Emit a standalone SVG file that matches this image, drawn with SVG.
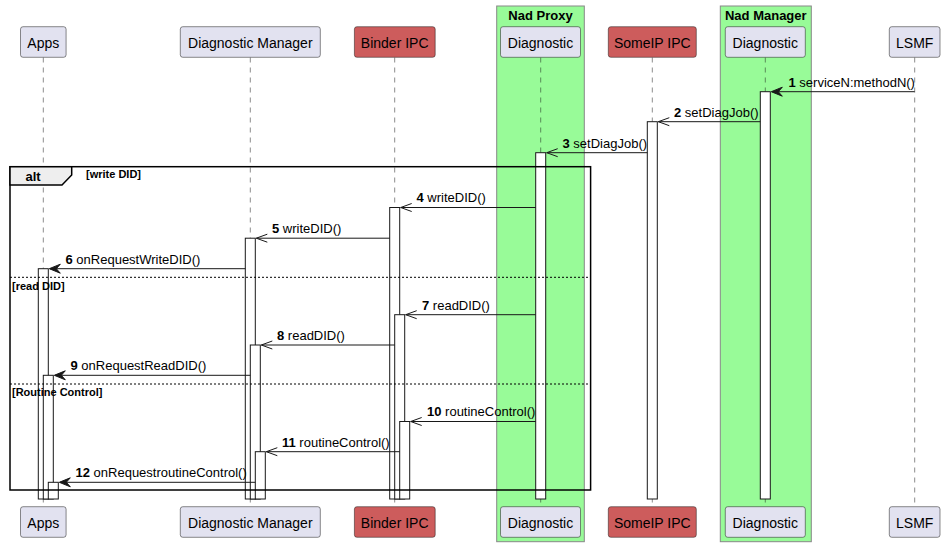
<svg xmlns="http://www.w3.org/2000/svg" width="945" height="547" viewBox="0 0 945 547">
<style>
text{font-family:"Liberation Sans",Arial,sans-serif;fill:#000}
.box{stroke:#888888;stroke-width:1;fill:#98FB98}
.boxt{font-size:13px;font-weight:bold;text-anchor:middle}
.p{fill:#E2E2F0;stroke:#181818;stroke-width:0.5}
.r{fill:#CD5C5C;stroke:#181818;stroke-width:0.5}
.pt{font-size:14px;text-anchor:middle}
.life{stroke:#181818;stroke-width:0.5;stroke-dasharray:5,5;fill:none}
.act{fill:#FFFFFF;stroke:#181818;stroke-width:1}
.msg{stroke:#181818;stroke-width:1;fill:none}
.head{fill:#181818;stroke:#181818;stroke-width:1}
.ml{font-size:13px}
.frame{fill:none;stroke:#000;stroke-width:1.5}
.sep{stroke:#000;stroke-width:1;stroke-dasharray:2,2}
.gl{font-size:11px;font-weight:bold}
</style>
<g id="box-nad-proxy">
<rect class="box" x="496.7" y="6" width="87.6" height="535.7"/>
<text class="boxt" x="540.5" y="19.5">Nad Proxy</text>
</g>
<g id="box-nad-manager">
<rect class="box" x="720.3" y="6" width="91" height="535.7"/>
<text class="boxt" x="765.8" y="19.5">Nad Manager</text>
</g>
<g id="lifelines">
<line class="life" x1="43.3" y1="57.5" x2="43.3" y2="506.7"/>
<line class="life" x1="250.3" y1="57.5" x2="250.3" y2="506.7"/>
<line class="life" x1="394.7" y1="57.5" x2="394.7" y2="506.7"/>
<line class="life" x1="540.7" y1="57.5" x2="540.7" y2="506.7"/>
<line class="life" x1="652.3" y1="57.5" x2="652.3" y2="506.7"/>
<line class="life" x1="765.3" y1="57.5" x2="765.3" y2="506.7"/>
<line class="life" x1="914.7" y1="57.5" x2="914.7" y2="506.7"/>
</g>
<g id="apps">
<rect class="p" x="20.5" y="26.7" width="45.6" height="30.6" rx="2.5"/>
<text class="pt" x="43.3" y="47.7">Apps</text>
<rect class="p" x="20.5" y="506.7" width="45.6" height="30.6" rx="2.5"/>
<text class="pt" x="43.3" y="527.7">Apps</text>
</g>
<g id="diagnostic-manager">
<rect class="p" x="180.3" y="26.7" width="140" height="30.6" rx="2.5"/>
<text class="pt" x="250.3" y="47.7">Diagnostic Manager</text>
<rect class="p" x="180.3" y="506.7" width="140" height="30.6" rx="2.5"/>
<text class="pt" x="250.3" y="527.7">Diagnostic Manager</text>
</g>
<g id="binder-ipc">
<rect class="r" x="354.4" y="26.7" width="80.8" height="30.6" rx="2.5"/>
<text class="pt" x="394.7" y="47.7">Binder IPC</text>
<rect class="r" x="354.4" y="506.7" width="80.8" height="30.6" rx="2.5"/>
<text class="pt" x="394.7" y="527.7">Binder IPC</text>
</g>
<g id="nad-proxy-diagnostic">
<rect class="p" x="500.5" y="26.7" width="80" height="30.6" rx="2.5"/>
<text class="pt" x="540.5" y="47.7">Diagnostic</text>
<rect class="p" x="500.5" y="506.7" width="80" height="30.6" rx="2.5"/>
<text class="pt" x="540.5" y="527.7">Diagnostic</text>
</g>
<g id="someip-ipc">
<rect class="r" x="608.3" y="26.7" width="88" height="30.6" rx="2.5"/>
<text class="pt" x="652.3" y="47.7">SomeIP IPC</text>
<rect class="r" x="608.3" y="506.7" width="88" height="30.6" rx="2.5"/>
<text class="pt" x="652.3" y="527.7">SomeIP IPC</text>
</g>
<g id="nad-manager-diagnostic">
<rect class="p" x="725.3" y="26.7" width="80" height="30.6" rx="2.5"/>
<text class="pt" x="765.3" y="47.7">Diagnostic</text>
<rect class="p" x="725.3" y="506.7" width="80" height="30.6" rx="2.5"/>
<text class="pt" x="765.3" y="527.7">Diagnostic</text>
</g>
<g id="lsmf">
<rect class="p" x="889.3" y="26.7" width="50.7" height="30.6" rx="2.5"/>
<text class="pt" x="914.7" y="47.7">LSMF</text>
<rect class="p" x="889.3" y="506.7" width="50.7" height="30.6" rx="2.5"/>
<text class="pt" x="914.7" y="527.7">LSMF</text>
</g>
<g id="activations">
<rect class="act" x="760.3" y="91.7" width="10" height="407.3"/>
<rect class="act" x="647.3" y="121.7" width="10" height="377.3"/>
<rect class="act" x="535.7" y="152.7" width="10" height="346.3"/>
<rect class="act" x="389.7" y="207.5" width="10" height="291.5"/>
<rect class="act" x="394.7" y="314.7" width="10" height="184.3"/>
<rect class="act" x="399.7" y="421.5" width="10" height="77.5"/>
<rect class="act" x="245.3" y="238.2" width="10" height="260.8"/>
<rect class="act" x="250.3" y="345" width="10" height="154"/>
<rect class="act" x="255.3" y="451.7" width="10" height="47.3"/>
<rect class="act" x="38.3" y="268.7" width="10" height="230.3"/>
<rect class="act" x="43.3" y="375.3" width="10" height="123.7"/>
<rect class="act" x="48.3" y="482.3" width="10" height="16.7"/>
</g>
<g id="connectors">
<line class="msg" x1="914.7" y1="91.7" x2="772" y2="91.7"/>
<polygon class="head" points="771.3,91.7 782.3,87.2 778.3,91.7 782.3,96.2"/>
<text class="ml" x="788.5" y="86.5"><tspan font-weight="bold">1</tspan> serviceN:methodN()</text>

<line class="msg" x1="760.3" y1="121.7" x2="658.3" y2="121.7"/>
<path class="msg" d="M669.3,117.7 L658.3,121.7 L669.3,125.7"/>
<text class="ml" x="674" y="116.5"><tspan font-weight="bold">2</tspan> setDiagJob()</text>

<line class="msg" x1="647.3" y1="152.7" x2="546.7" y2="152.7"/>
<path class="msg" d="M557.7,148.7 L546.7,152.7 L557.7,156.7"/>
<text class="ml" x="562.5" y="147.5"><tspan font-weight="bold">3</tspan> setDiagJob()</text>

<line class="msg" x1="535.7" y1="207.5" x2="400.7" y2="207.5"/>
<path class="msg" d="M411.7,203.5 L400.7,207.5 L411.7,211.5"/>
<text class="ml" x="416.5" y="202.3"><tspan font-weight="bold">4</tspan> writeDID()</text>

<line class="msg" x1="389.7" y1="238.2" x2="256.3" y2="238.2"/>
<path class="msg" d="M267.3,234.2 L256.3,238.2 L267.3,242.2"/>
<text class="ml" x="272" y="233"><tspan font-weight="bold">5</tspan> writeDID()</text>

<line class="msg" x1="245.3" y1="268.7" x2="50" y2="268.7"/>
<polygon class="head" points="49.3,268.7 60.3,264.2 56.3,268.7 60.3,273.2"/>
<text class="ml" x="65.5" y="263.5"><tspan font-weight="bold">6</tspan> onRequestWriteDID()</text>

<line class="msg" x1="535.7" y1="314.7" x2="405.7" y2="314.7"/>
<path class="msg" d="M416.7,310.7 L405.7,314.7 L416.7,318.7"/>
<text class="ml" x="422" y="309.5"><tspan font-weight="bold">7</tspan> readDID()</text>

<line class="msg" x1="394.7" y1="345" x2="261.3" y2="345"/>
<path class="msg" d="M272.3,341 L261.3,345 L272.3,349"/>
<text class="ml" x="277" y="339.8"><tspan font-weight="bold">8</tspan> readDID()</text>

<line class="msg" x1="250.3" y1="375.3" x2="55" y2="375.3"/>
<polygon class="head" points="54.3,375.3 65.3,370.8 61.3,375.3 65.3,379.8"/>
<text class="ml" x="70.5" y="370.1"><tspan font-weight="bold">9</tspan> onRequestReadDID()</text>

<line class="msg" x1="535.7" y1="421.5" x2="410.7" y2="421.5"/>
<path class="msg" d="M421.7,417.5 L410.7,421.5 L421.7,425.5"/>
<text class="ml" x="427" y="416.3"><tspan font-weight="bold">10</tspan> routineControl()</text>

<line class="msg" x1="399.7" y1="451.7" x2="266.3" y2="451.7"/>
<path class="msg" d="M277.3,447.7 L266.3,451.7 L277.3,455.7"/>
<text class="ml" x="282" y="446.5"><tspan font-weight="bold">11</tspan> routineControl()</text>

<line class="msg" x1="255.3" y1="482.3" x2="60" y2="482.3"/>
<polygon class="head" points="59.3,482.3 70.3,477.8 66.3,482.3 70.3,486.8"/>
<text class="ml" x="75.5" y="477.1"><tspan font-weight="bold">12</tspan> onRequestroutineControl()</text>
</g>
<g id="alt-frame">
<rect class="frame" x="10" y="166.7" width="580.6" height="323.3"/>
<polygon points="10,166.7 71.7,166.7 71.7,175 62,185 10,185" fill="#EEEEEE" stroke="#000" stroke-width="1.5"/>
<text x="25.5" y="180.5" font-size="13" font-weight="bold">alt</text>
<text class="gl" x="86" y="178">[write DID]</text>
<line class="sep" x1="10" y1="277.3" x2="590.6" y2="277.3"/>
<text class="gl" x="12" y="289.5">[read DID]</text>
<line class="sep" x1="10" y1="384" x2="590.6" y2="384"/>
<text class="gl" x="12" y="395.8">[Routine Control]</text>
</g>
</svg>
